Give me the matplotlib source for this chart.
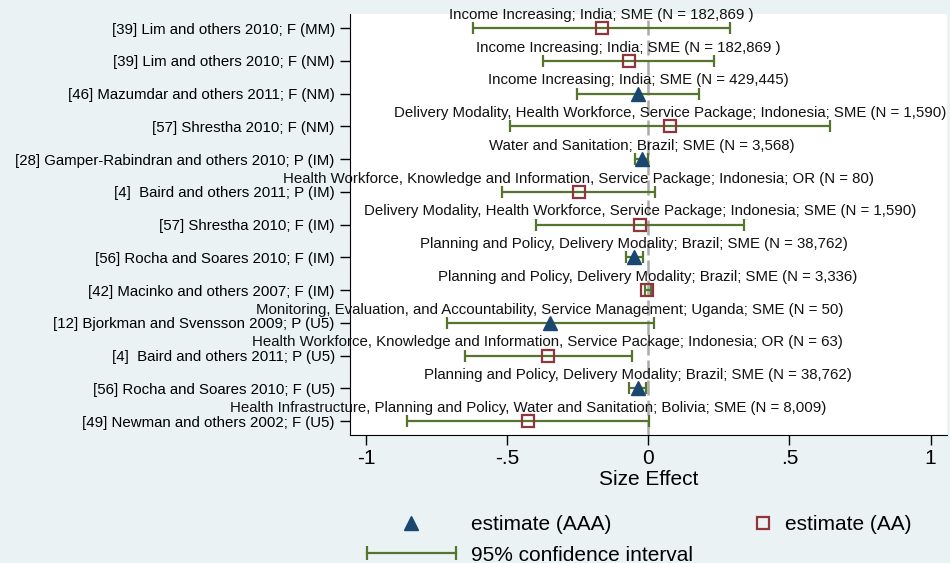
import matplotlib.pyplot as plt
from matplotlib.lines import Line2D
from matplotlib.legend_handler import HandlerLine2D
import numpy as np

plt.rcParams['font.family'] = ['Liberation Sans', 'DejaVu Sans']

## study labels (top to bottom)
studies = ["[39] Lim and others 2010; F (MM)",
           "[39] Lim and others 2010; F (NM)",
           "[46] Mazumdar and others 2011; F (NM)",
           "[57] Shrestha 2010; F (NM)",
           "[28] Gamper-Rabindran and others 2010; P (IM)",
           "[4]  Baird and others 2011; P (IM)",
           "[57] Shrestha 2010; F (IM)",
           "[56] Rocha and Soares 2010; F (IM)",
           "[42] Macinko and others 2007; F (IM)",
           "[12] Bjorkman and Svensson 2009; P (U5)",
           "[4]  Baird and others 2011; P (U5)",
           "[56] Rocha and Soares 2010; F (U5)",
           "[49] Newman and others 2002; F (U5)"]

notes = ["Income Increasing; India; SME (N = 182,869 )",
         "Income Increasing; India; SME (N = 182,869 )",
         "Income Increasing; India; SME (N = 429,445)",
         "Delivery Modality, Health Workforce, Service Package; Indonesia; SME (N = 1,590)",
         "Water and Sanitation; Brazil; SME (N = 3,568)",
         "Health Workforce, Knowledge and Information, Service Package; Indonesia; OR (N = 80)",
         "Delivery Modality, Health Workforce, Service Package; Indonesia; SME (N = 1,590)",
         "Planning and Policy, Delivery Modality; Brazil; SME (N = 38,762)",
         "Planning and Policy, Delivery Modality; Brazil; SME (N = 3,336)",
         "Monitoring, Evaluation, and Accountability, Service Management; Uganda; SME (N = 50)",
         "Health Workforce, Knowledge and Information, Service Package; Indonesia; OR (N = 63)",
         "Planning and Policy, Delivery Modality; Brazil; SME (N = 38,762)",
         "Health Infrastructure, Planning and Policy, Water and Sanitation; Bolivia; SME (N = 8,009)"]

estimate = [-0.165, -0.070, -0.035, 0.078, -0.024, -0.246, -0.030, -0.051, -0.004, -0.349, -0.356, -0.038, -0.426]
ci_low = [-0.620, -0.372, -0.252, -0.490, -0.047, -0.517, -0.399, -0.078, -0.012, -0.713, -0.650, -0.070, -0.855]
ci_high = [0.291, 0.234, 0.179, 0.644, -0.003, 0.024, 0.338, -0.020, 0.008, 0.020, -0.058, -0.007, 0.003]
quality = ["AA", "AA", "AAA", "AA", "AAA", "AA", "AA", "AAA", "AA", "AAA", "AA", "AAA", "AA"]

xticks = [-1, -0.5, 0, 0.5, 1]
xticklabels = ["-1", "-.5", "0", ".5", "1"]

bg = "#eaf2f3"
c_ci = "#55752f"
c_aaa = "#1a476f"
c_aa = "#90353b"

est = np.array(estimate)
lo = np.array(ci_low)
hi = np.array(ci_high)
q = np.array(quality)
y = np.arange(1, len(studies) + 1)

fig = plt.figure(figsize=[9.5, 5.63], dpi=100, facecolor=bg)
ax = fig.add_axes([0.3685, 0.227, 0.628, 0.748])
ax.set_facecolor("white")

ax.axvline(0, color="#ababab", lw=1.8, ls=(0, (6, 2)), zorder=1)

## confidence intervals
ax.errorbar(est, y, xerr=[est - lo, hi - est], fmt="none", ecolor=c_ci,
            elinewidth=1.6, capsize=4, capthick=1.6, zorder=2)

aaa = q == "AAA"
ax.plot(est[aaa], y[aaa], "^", color=c_aaa, ms=10, zorder=3, ls="none")
ax.plot(est[~aaa], y[~aaa], "s", mfc="none", mec=c_aa, mew=1.6, ms=8, zorder=3, ls="none")

for i in range(len(notes)):
    ax.annotate(notes[i], (est[i], y[i]), xytext=(0, 9.5), textcoords="offset points",
                ha="center", va="center", fontsize=10.8, color="#111111")

ax.set_xlim(-1.057, 1.057)
ax.set_ylim(13.43, 0.57)
ax.set_yticks(y)
ax.set_yticklabels(studies, fontsize=10.8)
ax.set_xticks(xticks)
ax.set_xticklabels(xticklabels, fontsize=15)
ax.set_xlabel("Size Effect", fontsize=15, labelpad=1.5)
ax.tick_params(axis="y", length=7, width=1, pad=4)
ax.tick_params(axis="x", length=7, width=1, pad=3)
ax.spines["top"].set_visible(False)
ax.spines["right"].set_visible(False)

## legend
h_aaa = Line2D([], [], marker="^", color=c_aaa, ms=10, ls="none")
h_ci = Line2D([], [], color=c_ci, lw=1.6, marker="|", ms=10, mew=1.6)
h_aa = Line2D([], [], marker="s", mfc="none", mec=c_aa, mew=1.6, ms=8, ls="none")
leg1 = fig.legend([h_aaa, h_ci], ["estimate (AAA)", "95% confidence interval"],
                  loc="upper left", bbox_to_anchor=(0.386, 0.085), frameon=False,
                  fontsize=15, handlelength=4.3, handletextpad=0.7,
                  labelspacing=0.55, borderpad=0, borderaxespad=0,
                  handler_map={h_ci: HandlerLine2D(numpoints=2, marker_pad=0)})
leg2 = fig.legend([h_aa], ["estimate (AA)"], loc="upper left",
                  bbox_to_anchor=(0.794, 0.085), frameon=False, fontsize=15,
                  handlelength=0.8, handletextpad=0.65, borderpad=0, borderaxespad=0)

plt.savefig("out.png", dpi=100, facecolor=bg)
